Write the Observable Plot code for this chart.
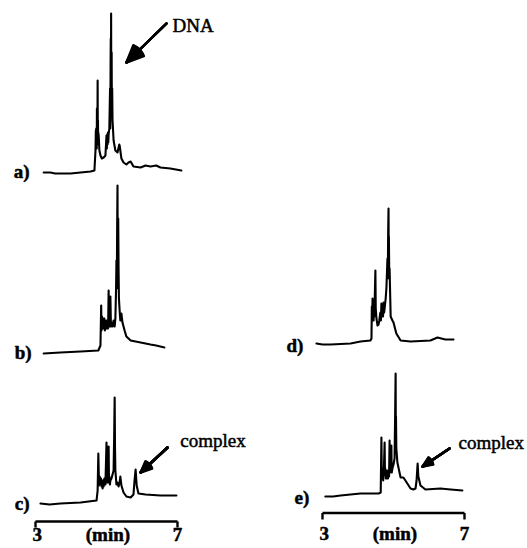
<!DOCTYPE html>
<html><head><meta charset="utf-8">
<script src="https://cdn.jsdelivr.net/npm/d3@7"></script>
<script src="https://cdn.jsdelivr.net/npm/@observablehq/plot@0.6"></script>
<style>html,body{margin:0;padding:0;background:#fff}</style>
</head><body><div id="chart"></div>
<script>
// Chromatogram traces: [time (min), detector signal (arbitrary units)]
const traceA = [[3.23,8],[3.42,8],[3.55,7.5],[3.70,7.5],[3.99,7.5],[4.27,8],[4.55,8.5],[4.66,9],[4.69,19],[4.70,29],[4.705,20],[4.71,30],[4.715,21],[4.72,26],[4.725,20],[4.73,40],[4.74,24],[4.745,30],[4.75,54],[4.755,28],[4.76,34],[4.765,22],[4.77,28],[4.78,26.5],[4.80,19],[4.83,16.5],[4.87,15],[4.92,15.5],[4.97,16.5],[5.00,26.5],[5.01,20],[5.02,27],[5.03,22],[5.04,28],[5.05,23],[5.06,27],[5.08,30],[5.10,50],[5.105,30],[5.11,36],[5.115,62],[5.12,75],[5.125,40],[5.13,87.5],[5.135,45],[5.14,56],[5.145,68],[5.15,42],[5.16,50],[5.17,34],[5.20,24],[5.25,19],[5.31,18],[5.36,22],[5.37,21.5],[5.42,15],[5.48,13],[5.56,12],[5.62,13],[5.68,13.5],[5.76,11],[5.96,10.5],[6.10,11.5],[6.24,11],[6.40,11.5],[6.52,10.5],[6.80,10],[7.11,9]];
const traceB = [[3.23,7.5],[3.70,8],[4.27,8.5],[4.77,9],[4.83,11.5],[4.85,31.5],[4.86,19],[4.875,26],[4.89,20],[4.905,25],[4.92,20],[4.94,25],[4.955,19],[4.97,23],[4.985,20],[5.00,24],[5.015,20],[5.03,22],[5.045,20],[5.06,39],[5.07,22],[5.08,25],[5.095,21],[5.11,36],[5.125,21],[5.14,23],[5.17,21],[5.20,24],[5.23,21],[5.25,25],[5.27,40],[5.28,54],[5.29,40],[5.30,70],[5.31,91.5],[5.315,55],[5.32,68],[5.325,48],[5.33,75],[5.34,50],[5.35,35],[5.37,29],[5.39,24],[5.42,27.5],[5.45,23],[5.51,19],[5.56,16],[5.68,14],[5.82,13.5],[5.96,13],[6.24,12],[6.40,11.5],[6.63,10.5]];
const traceC = [[3.14,22.5],[3.40,22],[3.70,22.5],[4.27,23],[4.72,24],[4.75,29],[4.77,47.5],[4.79,31.5],[4.81,36],[4.83,32],[4.845,35],[4.86,31],[4.875,34],[4.89,30],[4.905,34],[4.92,31],[4.94,35],[4.97,32],[5.00,53],[5.015,33],[5.03,36],[5.045,33],[5.06,51],[5.07,34],[5.08,36],[5.095,32],[5.11,34],[5.14,35],[5.20,39],[5.215,55],[5.23,75.5],[5.24,50],[5.25,39],[5.28,32],[5.31,33],[5.34,31],[5.37,33],[5.39,36],[5.42,31.5],[5.48,28],[5.56,26],[5.68,25.5],[5.76,27],[5.79,34],[5.82,39.5],[5.85,31.5],[5.90,27.5],[6.10,27],[6.52,26.5],[6.97,26.5]];
const traceD = [[2.83,12.5],[3.00,12],[3.23,12],[3.79,12.5],[4.07,13.5],[4.35,14],[4.38,15],[4.39,31],[4.40,24],[4.41,35],[4.42,27],[4.43,33],[4.44,24],[4.45,34],[4.46,26],[4.47,33],[4.49,49],[4.50,30],[4.52,25],[4.55,21.5],[4.58,22],[4.60,24],[4.63,28],[4.645,24],[4.66,32.5],[4.675,26],[4.69,31],[4.705,26],[4.72,33],[4.735,28],[4.75,30],[4.78,35],[4.80,40],[4.83,55],[4.84,45],[4.85,68],[4.86,80],[4.865,58],[4.87,66],[4.88,48],[4.89,50],[4.92,26],[4.97,24],[5.00,23],[5.08,17.5],[5.20,14],[5.48,13.5],[6.04,14],[6.24,15.5],[6.46,14.5],[6.69,14.5]];
const traceE = [[3.08,26],[3.30,26],[3.51,26.5],[4.07,27.5],[4.58,27.5],[4.64,28],[4.66,55.5],[4.67,36],[4.68,40],[4.69,35],[4.70,38],[4.71,34],[4.73,40],[4.75,53],[4.76,37],[4.77,40],[4.785,35],[4.80,38],[4.815,35],[4.83,39],[4.845,35],[4.86,38],[4.875,36],[4.89,54],[4.90,38],[4.92,40],[4.94,51.5],[4.95,38],[4.97,40],[5.00,42],[5.03,45],[5.045,65],[5.06,87.5],[5.065,60],[5.07,66],[5.08,50],[5.11,43],[5.20,35.5],[5.28,35.5],[5.39,32.5],[5.48,30],[5.56,29.5],[5.62,30],[5.65,34],[5.68,42.5],[5.70,36],[5.76,31.5],[5.90,29.5],[6.32,30],[6.61,29.5],[6.94,29]];

const panelTraces = [traceA, traceB, traceC, traceD, traceE];
const panelLabels = ["a)", "b)", "c)", "d)", "e)"];
const panelCols = ["L", "L", "L", "R", "R"];
const panelRows = [1, 2, 3, 2, 3];
const labelTime = [2.83, 2.89, 2.83, 2.46, 2.63];
const labelSignal = [8.5, 8, 22.5, 11.5, 25.5];

// Annotations (text + arrow)
const annoText = ["DNA", "complex", "complex"];
const annoCols = ["L", "L", "R"];
const annoRows = [1, 3, 3];
const annoTime = [6.86, 7.08, 6.83];
const annoSignal = [81.5, 54, 53];
const arrowFromTime = [6.69, 6.72, 6.58];
const arrowFromSignal = [82.5, 50.5, 50];
const arrowToTime = [5.56, 5.96, 5.82];
const arrowToSignal = [63, 38, 41];

// Time scale bars
const barCols = ["L", "R"];
const barRow = 3;
const barStart = 3, barEnd = 7;
const barSignal = [13.5, 17.75];
const barTickBottom = [10.5, 14.5];
const barLabels = ["3", "(min)", "7"];
const barLabelTime = [3.05, 5.04, 7.0];
const barLabelSignal = [6.75, 7.25];

// ---- build tables ----
const lineData = panelTraces.flatMap((tr, i) => tr.map(([t, s]) => ({t, s, panel: panelLabels[i], col: panelCols[i], row: panelRows[i]})));
const labelData = panelLabels.map((l, i) => ({text: l, t: labelTime[i], s: labelSignal[i], col: panelCols[i], row: panelRows[i]}));
const annoData = annoText.map((l, i) => ({text: l, t: annoTime[i], s: annoSignal[i], col: annoCols[i], row: annoRows[i]}));
const arrowData = annoText.map((l, i) => ({t1: arrowFromTime[i], s1: arrowFromSignal[i], t2: arrowToTime[i], s2: arrowToSignal[i], col: annoCols[i], row: annoRows[i]}));
const barData = barCols.map((c, i) => ({t1: barStart, t2: barEnd, s: barSignal[i], sb: barTickBottom[i], col: c, row: barRow}));
const barTickData = barData.flatMap(d => [barStart, barEnd].map(t => ({t, s1: d.sb, s2: d.s, col: d.col, row: d.row})));
const barLabelData = barCols.flatMap((c, i) => barLabels.map((l, j) => ({text: l, t: barLabelTime[j], s: barLabelSignal[i], col: c, row: barRow})));

const fxy = {fx: "col", fy: "row"};
const headAngles = [8, 16, 24, 32, 40, 48];
const textStyle = {fontSize: 19, fill: "#000", stroke: "#000", strokeWidth: 0.5};

const chart = Plot.plot({
  width: 527,
  height: 548,
  marginTop: 0,
  marginBottom: 0,
  marginLeft: 0,
  marginRight: 27,
  style: {fontFamily: "'Liberation Serif', serif", background: "#fff"},
  fx: {domain: ["L", "R"], range: [0, 500], paddingInner: 0.2578, paddingOuter: 0, round: false, axis: null},
  fy: {domain: [1, 2, 3], range: [8, 548], padding: 0, round: false, axis: null},
  x: {domain: [3, 7], range: [35, 177], axis: null},
  y: {domain: [0, 90], range: [180, 0], axis: null},
  marks: [
    Plot.line(lineData, {x: "t", y: "s", z: "panel", ...fxy, stroke: "#000", strokeWidth: 2.1, strokeLinejoin: "round"}),
    Plot.text(labelData, {x: "t", y: "s", text: "text", ...fxy, textAnchor: "end", ...textStyle, fontWeight: "bold"}),
    Plot.text(annoData, {x: "t", y: "s", text: "text", ...fxy, textAnchor: "start", ...textStyle}),
    ...headAngles.map(a => Plot.arrow(arrowData, {x1: "t1", y1: "s1", x2: "t2", y2: "s2", ...fxy, stroke: "#000", strokeWidth: 2.4, headLength: 14, headAngle: a})),
    Plot.link(barData, {x1: "t1", x2: "t2", y1: "s", y2: "s", ...fxy, stroke: "#000", strokeWidth: 2.4}),
    Plot.link(barTickData, {x1: "t", x2: "t", y1: "s1", y2: "s2", ...fxy, stroke: "#000", strokeWidth: 2.4}),
    Plot.text(barLabelData, {x: "t", y: "s", text: "text", ...fxy, textAnchor: "middle", ...textStyle, fontWeight: "bold"})
  ]
});
document.getElementById("chart").appendChild(chart);
</script>
</body></html>
